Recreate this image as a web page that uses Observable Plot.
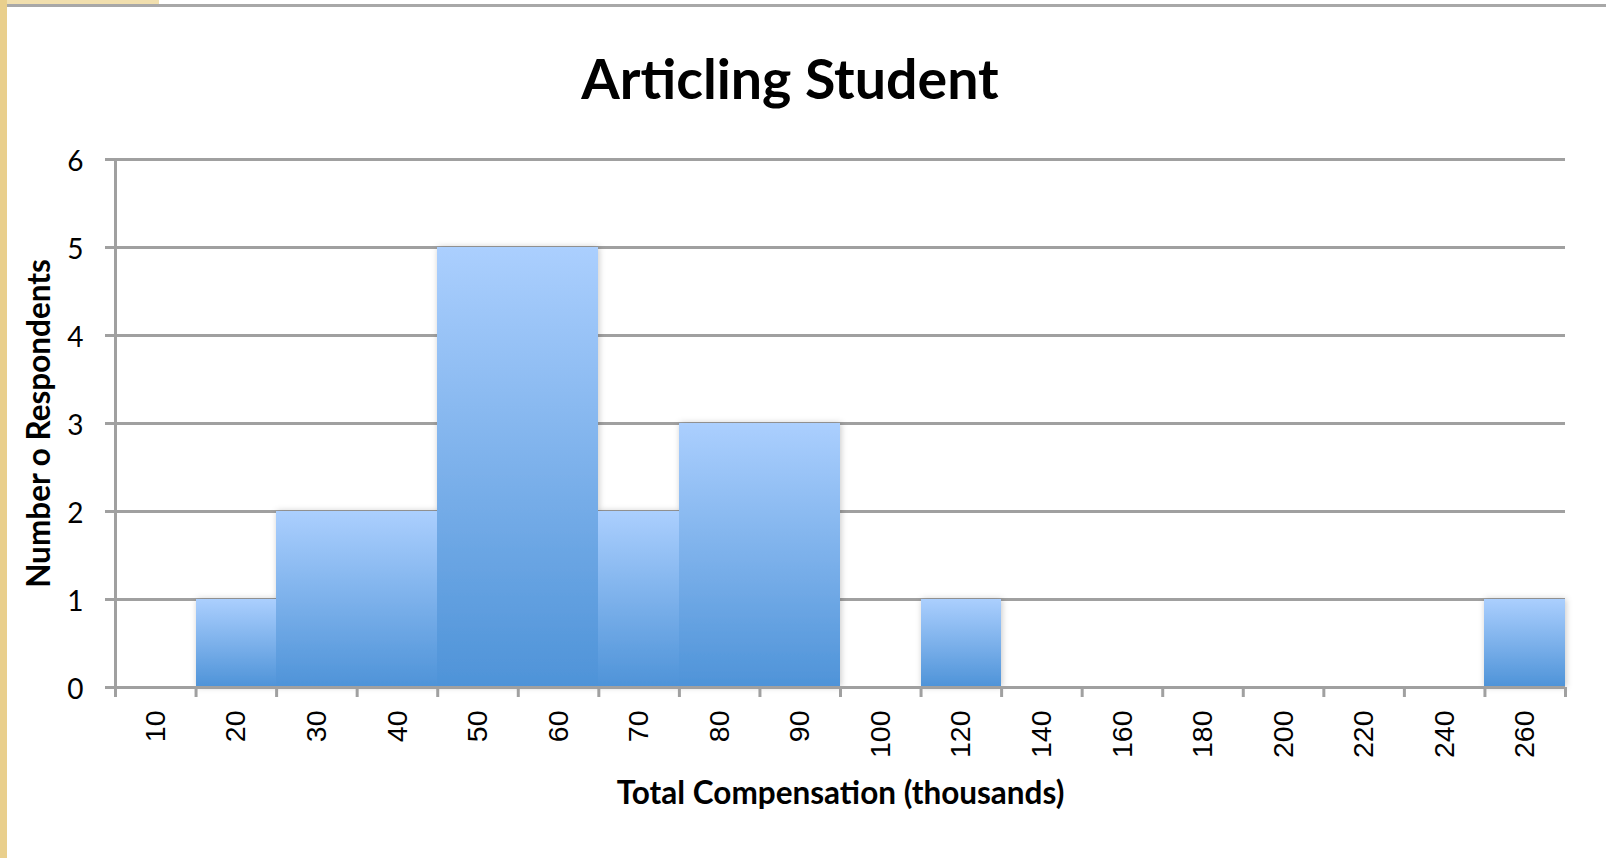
<!DOCTYPE html>
<html>
<head>
<meta charset="utf-8">
<script src="https://cdn.jsdelivr.net/npm/d3@7"></script>
<script src="https://cdn.jsdelivr.net/npm/@observablehq/plot@0.6"></script>
<style>
  html, body { margin: 0; padding: 0; background: #fff; }
  #page { position: relative; width: 1606px; height: 858px; background: #fff; overflow: hidden; }
  #strip { position: absolute; left: 0; top: 0; width: 7px; height: 858px; background: #e9cf8c; }
  #topbits { position: absolute; left: 7px; top: 0; width: 152px; height: 4px; background: #f1dfae; }
  #topline { position: absolute; left: 7px; top: 4px; width: 1599px; height: 3px; background: #a8a8a8; }
  #title { position: absolute; left: 0; top: 50px; width: 1580px; text-align: center;
           font-family: Lato, sans-serif; font-weight: bold; font-size: 55.5px; line-height: 56px; color: #000; }
  #chart { position: absolute; left: 0; top: 130px; }
</style>
</head>
<body>
<div id="page">
  <div id="strip"></div>
  <div id="topbits"></div>
  <div id="topline"></div>
  <div id="title">Articling Student</div>
  <div id="chart"></div>
</div>
<script>
const categories = ["10","20","30","40","50","60","70","80","90","100","120","140","160","180","200","220","240","260"];
const counts = [0,1,2,2,5,5,2,3,3,0,1,0,0,0,0,0,0,1];
const yTicks = [0,1,2,3,4,5,6];
const xTitle = "Total Compensation (thousands)";
const yTitle = "Number o Respondents";

const rows = categories.map((c, i) => ({i, label: c, count: counts[i]}));
const boundaries = d3.range(categories.length + 1);
const centers = categories.map((c, i) => i + 0.5);
const grid = "#a0a0a0";

const plot = Plot.plot({
  width: 1606,
  height: 728,
  marginLeft: 115,
  marginRight: 41,
  marginTop: 29,
  marginBottom: 171,
  x: {type: "linear", domain: [0, categories.length]},
  y: {domain: [0, 6]},
  style: {background: "transparent"},
  marks: [
    Plot.ruleY(yTicks.filter(d => d > 0), {stroke: grid, strokeWidth: 3, insetLeft: -10}),
    Plot.rectY(rows.filter(d => d.count > 0), {x1: "i", x2: d => d.i + 1, y: "count", fill: "url(#barGrad)", shapeRendering: "crispEdges", className: "bars"}),
    Plot.ruleY([0], {stroke: grid, strokeWidth: 3, insetLeft: -10}),
    Plot.ruleX([0], {stroke: grid, strokeWidth: 3, insetBottom: -10, insetTop: -1}),
    Plot.axisX({ticks: boundaries, tickFormat: () => "", tickSize: 10, stroke: grid, strokeWidth: 3, label: null}),
    Plot.axisX({ticks: centers, tickFormat: d => categories[Math.round(d - 0.5)], tickSize: 0, tickPadding: 23,
                tickRotate: -90, fontSize: 28.5, fontFamily: "'Liberation Sans', Arial, sans-serif", fill: "#000", label: null}),
    Plot.axisY({ticks: yTicks, tickFormat: d => String(d), tickSize: 0, tickPadding: 32, dy: 3, fontSize: 28, fontFamily: "Lato, sans-serif", fill: "#000", label: null}),
    Plot.text([xTitle], {text: d => d, frameAnchor: "bottom", dy: 116, fontSize: 31.5, fontWeight: "bold", fontFamily: "Lato, sans-serif", fill: "#000"}),
    Plot.text([yTitle], {text: d => d, frameAnchor: "left", textAnchor: "middle", dx: -76, rotate: -90, fontSize: 31.5, fontWeight: "bold", fontFamily: "Lato, sans-serif", fill: "#000"})
  ]
});

const svg = d3.select(plot);
const defs = svg.insert("defs", ":first-child");
const g = defs.append("linearGradient").attr("id", "barGrad").attr("x1", 0).attr("y1", 0).attr("x2", 0).attr("y2", 1);
g.append("stop").attr("offset", "0%").attr("stop-color", "#abcffe");
g.append("stop").attr("offset", "100%").attr("stop-color", "#4e93d8");
const f = defs.append("filter").attr("id", "barShadow").attr("x", "-5%").attr("y", "-5%").attr("width", "110%").attr("height", "110%");
f.append("feDropShadow").attr("dx", 1).attr("dy", 0).attr("stdDeviation", 3).attr("flood-color", "#000").attr("flood-opacity", 0.22);
svg.selectAll("g.bars").attr("filter", "url(#barShadow)");

document.getElementById("chart").appendChild(plot);
</script>
</body>
</html>
